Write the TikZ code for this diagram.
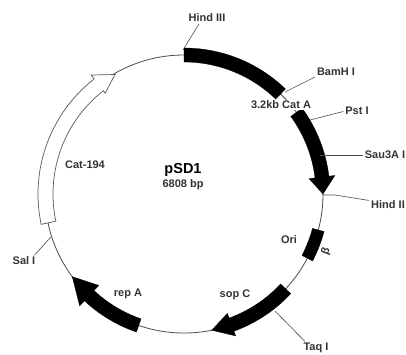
\documentclass[tikz,border=0pt]{standalone}
\usepackage{fontspec}
\setmainfont{Liberation Sans}
\usepackage{tikz}
\usepackage{xcolor}

\tikzset{
  ring/.style={black!70,line width=0.8pt},
  gene/.style={fill=black,draw=black,line width=0.3pt},
  hollowgene/.style={fill=white,draw=black!65,line width=0.7pt},
  site/.style={black!70,line width=0.6pt,shorten >=2pt},
  lbl/.style={inner sep=0pt,font=\bfseries\fontsize{11}{12}\selectfont,text=black!80},
}

\begin{document}
\begin{tikzpicture}[x=1pt,y=1pt]
\useasboundingbox (0,0) rectangle (406,-354);
\fill[white] (0,0) rectangle (406,-354);

\begin{scope}[shift={(184,-194)}]
\draw[ring] (0,0) circle (139);
% Cat-194
\filldraw[hollowgene] (192:146) arc (192:128:146) -- (128:151) -- (120:138) -- (128:128)
  -- (128:131) arc (128:192:131) -- cycle;
% Cat A, in two parts
\filldraw[gene] (90:146) arc (90:46:146) -- (46:132) arc (46:90:132) -- cycle;
\filldraw[gene] (36:146) arc (36:7:146) -- (7:152) -- (0:139) -- (7:126)
  -- (7:132) arc (7:36:132) -- cycle;
% Ori
\filldraw[gene] (-15:145) arc (-15:-27.5:145) -- (-27.5:133) arc (-27.5:-15:133) -- cycle;
% sop C
\filldraw[gene] (-43:146) arc (-43:-70:146) -- (-70:151) -- (-78.5:139) -- (-70:127)
  -- (-70:132) arc (-70:-43:132) -- cycle;
% rep A
\filldraw[gene] (251:146) arc (251:227:146) -- (227:153) -- (216.5:139) -- (227:125)
  -- (227:132) arc (227:251:132) -- cycle;
\end{scope}

% labels
\node[lbl] (hind3) at (207,-18) {Hind III};
\node[lbl] (bamh) at (336,-72) {BamH I};
\node[lbl] (pst) at (357,-111) {Pst I};
\node[lbl] (sau) at (385,-155) {Sau3A I};
\node[lbl] (hind2) at (388,-205) {Hind II};
\node[lbl] (taq) at (316,-348) {Taq I};
\node[lbl] (sal) at (24,-261) {Sal I};
\node[lbl,fill=white,inner sep=1pt] (cat) at (281,-105) {3.2kb Cat A};
\node[lbl] (cat194) at (85,-165) {Cat-194};
\node[lbl] (ori) at (289,-240) {Ori};
\node[lbl,rotate=70] (beta) at (326,-251) {β};
\node[lbl] (sop) at (235,-295) {sop C};
\node[lbl] (rep) at (128,-294) {rep A};
\node[inner sep=0pt,font=\bfseries\fontsize{14.5}{16}\selectfont] (name) at (183,-170) {pSD1};
\node[lbl] (size) at (183,-185) {6808 bp};

% cut sites
\coordinate (c1) at (183,-50);
\coordinate (c2) at (285,-92);
\coordinate (c3) at (310,-120);
\coordinate (c4) at (320,-155);
\coordinate (c5) at (322,-195);
\coordinate (c5b) at (335,-195);
\coordinate (c6) at (275,-311);
\coordinate (c7) at (51,-237);
\draw[site] (c1) -- ([xshift=-7pt]hind3.south);
\draw[site] (c2) -- (bamh.south west);
\draw[site] (c3) -- (pst.west);
\draw[site] (c4) -- (sau.west);
\draw[site] (c5) -- (c5b) -- (hind2.north west);
\draw[site] (c6) -- ([xshift=3pt]taq.north west);
\draw[site] (c7) -- ([xshift=9pt]sal.north);
\end{tikzpicture}
\end{document}
